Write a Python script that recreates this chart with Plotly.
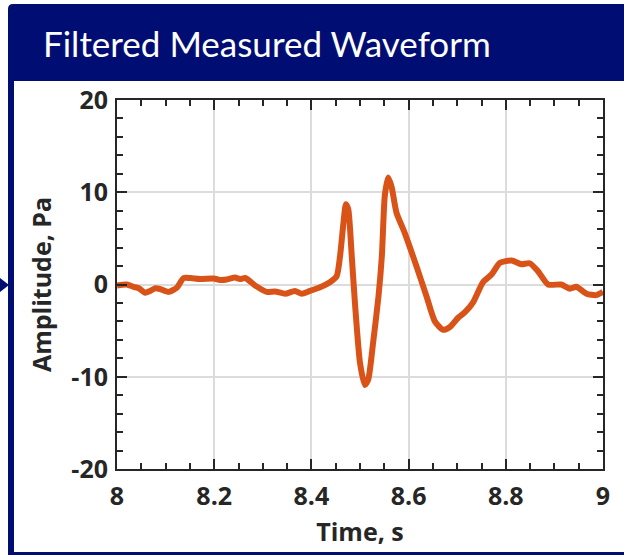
import plotly.graph_objects as go

# ---- data ----
time_s = [8.000, 8.020, 8.034, 8.045, 8.058, 8.068, 8.079, 8.089, 8.106, 8.123,
          8.137, 8.151, 8.171, 8.199, 8.212, 8.226, 8.243, 8.253, 8.264, 8.284,
          8.308, 8.325, 8.346, 8.366, 8.380, 8.397, 8.418, 8.438, 8.452, 8.459,
          8.466, 8.471, 8.476, 8.483, 8.490, 8.500, 8.510, 8.517, 8.527, 8.538,
          8.545, 8.551, 8.558, 8.565, 8.575, 8.592, 8.616, 8.637, 8.654, 8.671,
          8.685, 8.702, 8.716, 8.733, 8.753, 8.771, 8.788, 8.812, 8.832, 8.849,
          8.866, 8.887, 8.914, 8.932, 8.945, 8.966, 8.986, 9.000]
amplitude_pa = [-0.1, 0.0, -0.25, -0.4, -0.9, -0.7, -0.4, -0.5, -0.8, -0.35,
                0.7, 0.7, 0.6, 0.65, 0.5, 0.55, 0.75, 0.6, 0.7, -0.1,
                -0.8, -0.75, -1.0, -0.7, -1.0, -0.7, -0.3, 0.25, 0.9, 3.1,
                6.7, 8.7, 8.1, 3.1, -2.3, -8.5, -10.9, -10.3, -6.3, -1.3,
                3.1, 9.6, 11.6, 10.6, 7.8, 5.6, 2.0, -1.3, -4.0, -4.9,
                -4.6, -3.6, -3.0, -1.9, 0.25, 1.1, 2.35, 2.6, 2.2, 2.3,
                1.45, 0.0, 0.0, -0.45, -0.25, -1.0, -1.15, -0.8]
x_ticks = [8, 8.2, 8.4, 8.6, 8.8, 9]
x_tick_labels = ["8", "8.2", "8.4", "8.6", "8.8", "9"]
y_ticks = [-20, -10, 0, 10, 20]
y_tick_labels = ["-20", "-10", "0", "10", "20"]

title_text = "Filtered Measured Waveform"
x_title = "Time, s"
y_title = "Amplitude, Pa"

# ---- layout geometry (pixels) ----
W, H = 624, 555
L, R, T, B = 117, 21, 100, 86
NAVY = "#000E73"
INK = "#262626"


def px(x):
    return (x - L) / (W - L - R)


def py(y):
    return (H - B - y) / (H - T - B)


fig = go.Figure()
fig.add_trace(go.Scatter(
    x=time_s, y=amplitude_pa, mode="lines",
    line=dict(color="#D95319", width=6, shape="spline", smoothing=0.6),
    hoverinfo="skip", showlegend=False,
))

axis_common = dict(
    showline=True, linecolor=INK, linewidth=2, mirror="ticks",
    ticks="inside", ticklen=10, tickwidth=2, tickcolor=INK,
    showgrid=True, gridcolor="#DCDCDC", gridwidth=1.5, zeroline=False,
    tickfont=dict(family="Open Sans", size=25, color=INK, weight="bold"),
)

fig.update_xaxes(
    range=[8, 9], tickvals=x_ticks, ticktext=x_tick_labels,
    ticklabelstandoff=4,
    minor=dict(dtick=0.05, ticks="inside", ticklen=6, tickwidth=2, tickcolor=INK, showgrid=False),
    title=dict(text=x_title, standoff=12,
               font=dict(family="Open Sans", size=25, color=INK, weight="bold")),
    **axis_common,
)
fig.update_yaxes(
    range=[-20, 20], tickvals=y_ticks, ticktext=y_tick_labels,
    ticklabelstandoff=2,
    minor=dict(dtick=2, ticks="inside", ticklen=6, tickwidth=2, tickcolor=INK, showgrid=False),
    title=dict(text=y_title, standoff=13,
               font=dict(family="Open Sans", size=25, color=INK, weight="bold")),
    **axis_common,
)

shapes = []
# title bar with a slightly rounded top-left corner
x0, x1, y0, y1, r = 8, W + 2, 4, 81, 5
path = (f"M {px(x0)},{py(y1)} L {px(x0)},{py(y0 + r)} "
        f"Q {px(x0)},{py(y0)} {px(x0 + r)},{py(y0)} "
        f"L {px(x1)},{py(y0)} L {px(x1)},{py(y1)} Z")
shapes.append(dict(type="path", xref="paper", yref="paper", path=path,
                   fillcolor=NAVY, line=dict(width=0), layer="above"))
# left border
shapes.append(dict(type="rect", xref="paper", yref="paper",
                   x0=px(8), x1=px(14), y0=py(555), y1=py(80),
                   fillcolor=NAVY, line=dict(width=0), layer="above"))
# bottom border
shapes.append(dict(type="rect", xref="paper", yref="paper",
                   x0=px(8), x1=px(W + 2), y0=py(556), y1=py(552),
                   fillcolor=NAVY, line=dict(width=0), layer="above"))
# small arrow at left
tri = (f"M {px(0)},{py(278)} L {px(9)},{py(285)} L {px(0)},{py(292)} Z")
shapes.append(dict(type="path", xref="paper", yref="paper", path=tri,
                   fillcolor=NAVY, line=dict(width=0), layer="above"))

fig.update_layout(
    width=W, height=H,
    margin=dict(l=L, r=R, t=T, b=B, pad=0),
    paper_bgcolor="white", plot_bgcolor="white",
    shapes=shapes,
    annotations=[dict(
        text=title_text, xref="paper", yref="paper",
        x=px(41), y=py(43), xanchor="left", yanchor="middle",
        showarrow=False,
        font=dict(family="Lato", size=35, color="white"),
    )],
)

fig.write_html("out.html")
